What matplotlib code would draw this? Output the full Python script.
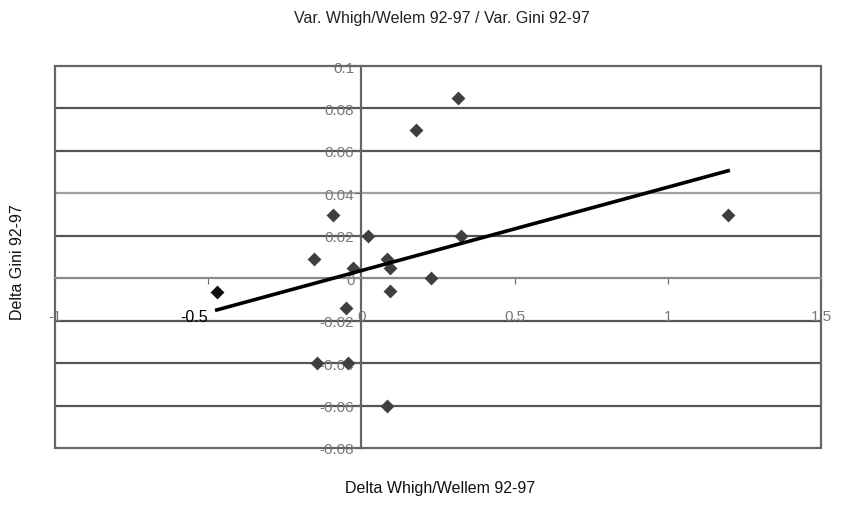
import matplotlib
matplotlib.use("Agg")
import matplotlib.pyplot as plt
from matplotlib.patches import Rectangle
import numpy as np

# values
delta_whigh = [-0.472, -0.155, -0.092, 0.023, -0.026, -0.050, 0.085, 0.093, 0.093,
               -0.146, -0.045, 0.083, 0.226, 0.316, 0.177, 0.325, 1.197]
delta_gini = [-0.0067, 0.009, 0.030, 0.020, 0.005, -0.014, 0.009, 0.005, -0.006,
              -0.040, -0.040, -0.060, 0.000, 0.085, 0.070, 0.020, 0.030]
trend_slope = 0.0393
trend_intercept = 0.0036

x_ticks = [-1, -0.5, 0, 0.5, 1, 1.5]
x_labels = ["-1", "-0.5", "0", "0.5", "1", "1.5"]
y_ticks = [-0.08, -0.06, -0.04, -0.02, 0, 0.02, 0.04, 0.06, 0.08, 0.1]
y_labels = ["-0.08", "-0.06", "-0.04", "-0.02", "0", "0.02", "0.04", "0.06", "0.08", "0.1"]

plt.rcParams['font.family'] = ['Liberation Sans', 'DejaVu Sans']

fig = plt.figure(figsize=(8.41, 5.10), dpi=100)
ax = fig.add_axes([55/841, 1-449/510, (821-55)/841, (449-67)/510])
ax.set_xlim(-1, 1.5)
ax.set_ylim(-0.08, 0.1)

# horizontal gridlines
for yv in y_ticks[1:-1]:
    if yv == 0:
        continue
    col = "#a0a0a0" if abs(yv - 0.04) < 1e-9 else "#555555"
    ax.axhline(yv, color=col, lw=1.6, zorder=1)

# frame
ax.add_patch(Rectangle((0, 0), 1, 1, transform=ax.transAxes, fill=False,
                       edgecolor="#666666", lw=1.6, zorder=2, clip_on=False))

# axes crossing at zero
for s in ["top", "right"]:
    ax.spines[s].set_visible(False)
ax.spines["left"].set_position(("data", 0))
ax.spines["bottom"].set_position(("data", 0))
ax.spines["left"].set_color("#666666")
ax.spines["bottom"].set_color("#8a8a8a")
ax.spines["left"].set_linewidth(1.6)
ax.spines["bottom"].set_linewidth(1.6)

ax.set_xticks(x_ticks)
ax.set_xticklabels(x_labels)
ax.set_yticks(y_ticks)
ax.set_yticklabels(y_labels)
ax.tick_params(axis="x", direction="out", length=4, color="#666666", pad=18,
               labelsize=11, labelcolor="#777777")
ax.tick_params(axis="y", direction="out", length=4, color="#666666", pad=1,
               labelsize=11, labelcolor="#777777")
for lab in ax.get_xticklabels():
    if lab.get_text() == "-0.5":
        lab.set_color("black")
        lab.set_fontsize(11.5)
        lab.set_horizontalalignment("right")

# points
xs = np.array(delta_whigh)
ys = np.array(delta_gini)
ax.scatter(xs[1:], ys[1:], marker="D", s=50, color="#3f3f3f", zorder=3, linewidths=0)
ax.scatter(xs[:1], ys[:1], marker="D", s=50, color="#111111", zorder=3, linewidths=0)

# linear trendline
tx = np.array([xs.min(), xs.max()])
ax.plot(tx, trend_slope * tx + trend_intercept, color="black", lw=2.6, zorder=4)

fig.text(442/841, 1-18/510, "Var. Whigh/Welem 92-97 / Var. Gini 92-97",
         ha="center", va="center", fontsize=11.5, color="#222222")
fig.text(440/841, 1-489/510, "Delta Whigh/Wellem 92-97",
         ha="center", va="center", fontsize=11.5, color="#111111")
fig.text(18/841, 1-262/510, "Delta Gini 92-97", rotation=90,
         ha="center", va="center", fontsize=11.5, color="#111111")

fig.savefig("out.png", dpi=100)
